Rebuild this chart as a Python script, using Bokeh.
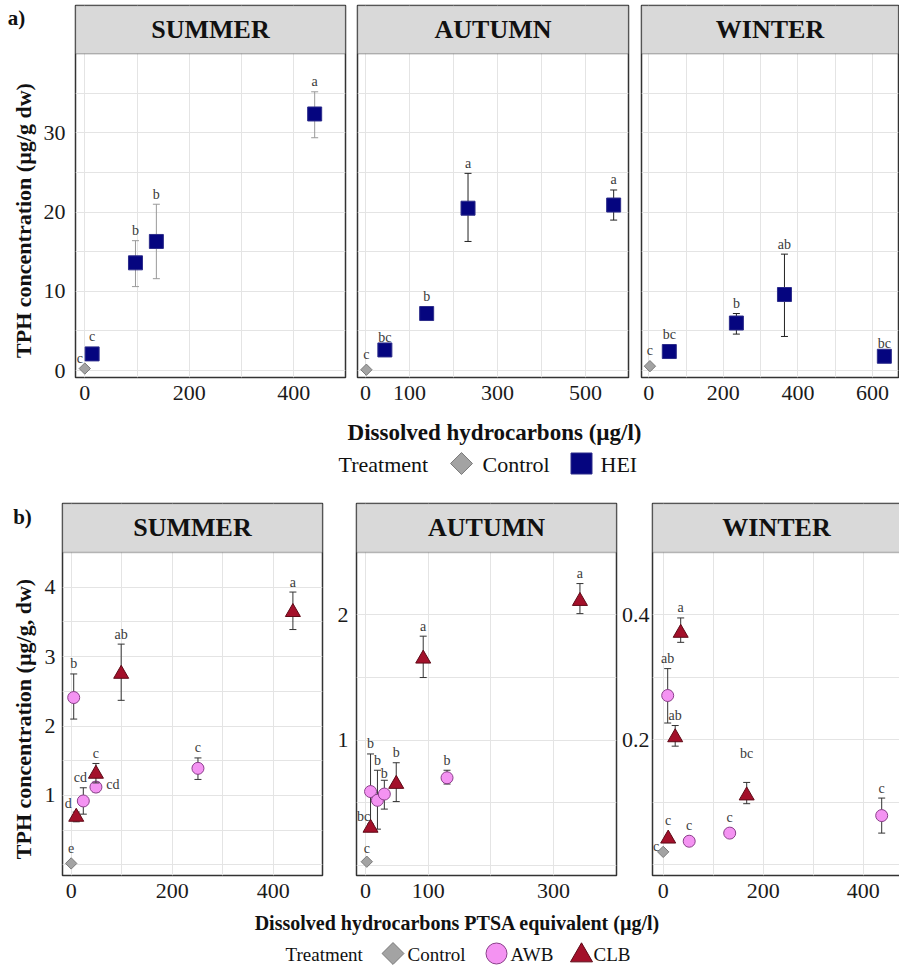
import math
from bokeh.plotting import figure
from bokeh.layouts import column, row
from bokeh.models import Range1d, FixedTicker, BoxAnnotation, Label, ColumnDataSource
from bokeh.core.properties import value
from bokeh.embed import file_html
from bokeh.resources import INLINE

# ------------------------------------------------------------------ DATA
seasons = ["SUMMER", "AUTUMN", "WINTER"]

# ---- panel a) : HEI vs Control, dissolved hydrocarbons (µg/l) / TPH (µg/g dw)
a_ctrl_x = [0, 2, 3]
a_ctrl_y = [0.25, 0.1, 0.55]
a_ctrl_lab = ["c", "c", "c"]

a_sum_hei_x = [14, 97, 137, 440]
a_sum_hei_y = [2.1, 13.6, 16.3, 32.4]
a_sum_hei_lo = [1.7, 10.6, 11.6, 29.4]
a_sum_hei_hi = [2.5, 16.4, 21.0, 35.2]
a_sum_hei_lab = ["c", "b", "b", "a"]

a_aut_hei_x = [44, 139, 233, 564]
a_aut_hei_y = [2.6, 7.2, 20.5, 20.9]
a_aut_hei_lo = [2.2, 6.5, 16.3, 19.0]
a_aut_hei_hi = [3.0, 7.5, 24.9, 22.8]
a_aut_hei_lab = ["bc", "b", "a", "a"]

a_win_hei_x = [55, 235, 364, 632]
a_win_hei_y = [2.4, 6.0, 9.6, 1.8]
a_win_hei_lo = [2.0, 4.6, 4.3, 1.5]
a_win_hei_hi = [2.8, 7.2, 14.7, 2.1]
a_win_hei_lab = ["bc", "b", "ab", "bc"]

# ---- panel b) : AWB / CLB vs Control, PTSA equivalent (µg/l) / TPH (µg/g, dw)
b_ctrl_x = [0, 2, 0]
b_ctrl_y = [0.02, 0.03, 0.021]
b_ctrl_lab = ["e", "c", "c"]

b_sum_awb_x = [5, 24, 49, 251]
b_sum_awb_y = [2.41, 0.92, 1.12, 1.39]
b_sum_awb_lo = [2.10, 0.73, 1.05, 1.23]
b_sum_awb_hi = [2.75, 1.11, 1.19, 1.54]
b_sum_awb_lab = ["b", "cd", "cd", "c"]

b_sum_clb_x = [10, 49, 99, 439]
b_sum_clb_y = [0.69, 1.31, 2.75, 3.64]
b_sum_clb_lo = [0.62, 1.18, 2.37, 3.39]
b_sum_clb_hi = [0.76, 1.46, 3.18, 3.93]
b_sum_clb_lab = ["d", "c", "ab", "a"]

b_aut_awb_x = [8, 19, 30, 130]
b_aut_awb_y = [0.59, 0.52, 0.57, 0.70]
b_aut_awb_lo = [0.29, 0.29, 0.45, 0.65]
b_aut_awb_hi = [0.89, 0.76, 0.68, 0.76]
b_aut_awb_lab = ["b", "b", "b", "b"]

b_aut_clb_x = [8, 49, 92, 342]
b_aut_clb_y = [0.30, 0.65, 1.65, 2.11]
b_aut_clb_lo = [0.27, 0.51, 1.50, 2.01]
b_aut_clb_hi = [0.33, 0.82, 1.83, 2.25]
b_aut_clb_lab = ["bc", "b", "a", "a"]

b_win_awb_x = [9, 52, 133, 437]
b_win_awb_y = [0.271, 0.038, 0.051, 0.079]
b_win_awb_lo = [0.227, 0.033, 0.046, 0.051]
b_win_awb_hi = [0.314, 0.043, 0.056, 0.107]
b_win_awb_lab = ["ab", "c", "c", "c"]

b_win_clb_x = [10, 24, 35, 167]
b_win_clb_y = [0.042, 0.204, 0.371, 0.111]
b_win_clb_lo = [0.038, 0.190, 0.356, 0.098]
b_win_clb_hi = [0.046, 0.223, 0.395, 0.132]
b_win_clb_lab = ["c", "ab", "a", "bc"]

# ---- tick values
a_y_ticks, a_y_minor = [0, 10, 20, 30], [5, 15, 25, 35]
a_sum_xticks, a_sum_xminor = [0, 200, 400], [100, 300]
a_aut_xticks, a_aut_xminor = [0, 100, 300, 500], [200, 400]
a_win_xticks, a_win_xminor = [0, 200, 400, 600], [100, 300, 500]
b_sum_xticks, b_sum_xminor = [0, 200, 400], [100, 300]
b_aut_xticks, b_aut_xminor = [0, 100, 300], [200]
b_win_xticks, b_win_xminor = [0, 200, 400], [100, 300]
b_sum_yticks, b_sum_yminor = [1, 2, 3, 4], [0, 0.5, 1.5, 2.5, 3.5]
b_aut_yticks, b_aut_yminor = [1, 2], [0, 0.5, 1.5]
b_win_yticks, b_win_yminor = [0.2, 0.4], [0, 0.1, 0.3]

# ------------------------------------------------------------------ STYLE
SERIF = "Liberation Serif"
GRID = "#e4e4e4"
FRAME = "#333333"
STRIP = "#d9d9d9"
LETTER = "#3a3a3a"
INK = "#111111"

STY = {
    "ctrl": dict(marker="square", angle=math.pi / 4, size=8, fill="#a3a3a3", line="#7a7a7a", half=5.7),
    "hei": dict(marker="square", angle=0.0, size=14, fill="#05057f", line="#2c2c8a", half=7),
    "awb": dict(marker="circle", angle=0.0, size=12, fill="#f493f2", line="#8a3f8a", half=6),
    "clb": dict(marker="triangle", angle=0.0, size=15, fill="#a3102a", line="#5e0a17", half=8.5),
}

# label nudges (dx, dy) in pixels for letters that sit off the default spot
NUDGE = {
    ("a_sum", "ctrl", 0): (-5, 6),
    ("a_aut", "hei", 0): (0, 5),
    ("a_win", "hei", 3): (0, 4),
    ("b_sum", "awb", 1): (-3, 0),
    ("b_sum", "awb", 2): (17, 13),
    ("b_sum", "clb", 0): (-8, 5),
    ("b_aut", "ctrl", 0): (0, 2),
    ("b_aut", "clb", 0): (-7, 7),
    ("b_aut", "awb", 2): (0, 3),
    ("b_win", "ctrl", 0): (-7, 10),
    ("b_win", "clb", 3): (0, -19),
}

FH = 372          # frame height (strip + data area)
BT, BB = 5, 32    # top / bottom borders of the panel rows
ROW_H = BT + FH + BB


def panel(season, fw, bl, br, xr, yr, strip_bottom, xt, xm, yt, ym, show_y, y_standoff):
    p = figure(frame_width=fw, frame_height=FH,
               min_border_left=bl, min_border_right=br, min_border_top=BT, min_border_bottom=BB,
               x_range=Range1d(*xr), y_range=Range1d(*yr),
               toolbar_location=None, output_backend="svg",
               background_fill_color="white", border_fill_color="white")
    p.outline_line_color = FRAME
    p.outline_line_width = 1.5
    xtk = FixedTicker(ticks=xt, minor_ticks=xm)
    ytk = FixedTicker(ticks=yt, minor_ticks=ym)
    p.xaxis.ticker = xtk
    p.xgrid.ticker = xtk
    p.yaxis.ticker = ytk
    p.ygrid.ticker = ytk
    for g in (p.xgrid, p.ygrid):
        g.grid_line_color = GRID
        g.minor_grid_line_color = GRID
        g.grid_line_width = 1
        g.minor_grid_line_width = 1
    for ax in (p.xaxis, p.yaxis):
        ax.axis_line_color = None
        ax.major_tick_line_color = None
        ax.minor_tick_line_color = None
        ax.major_tick_out = 0
        ax.major_tick_in = 0
        ax.minor_tick_out = 0
        ax.minor_tick_in = 0
        ax.major_label_text_font = SERIF
        ax.major_label_text_font_size = "22px"
        ax.major_label_text_color = "#1a1a1a"
    p.xaxis.major_label_standoff = 8
    p.yaxis.major_label_standoff = y_standoff
    if not show_y:
        p.yaxis.visible = False
    p.add_layout(BoxAnnotation(bottom=strip_bottom, fill_color=STRIP, fill_alpha=1.0,
                               line_color=FRAME, line_width=1.5))
    p.add_layout(Label(x=(xr[0] + xr[1]) / 2, y=(strip_bottom + yr[1]) / 2, text=season,
                       text_align="center", text_baseline="middle", text_font=SERIF,
                       text_font_style="bold", text_font_size="26px", text_color=INK))
    return p


def series(p, pid, kind, xs, ys, labs, lo=None, hi=None, err_color="#333333"):
    st = STY[kind]
    lo = lo if lo is not None else ys
    hi = hi if hi is not None else ys
    yr = p.y_range
    scale = p.frame_height / (yr.end - yr.start)
    dx, dy = [], []
    for i, (y, h) in enumerate(zip(ys, hi)):
        top = max((h - y) * scale, st["half"])
        ndx, ndy = NUDGE.get((pid, kind, i), (0, 0))
        dx.append(ndx)
        dy.append(-(top + 10) + ndy)
    src = ColumnDataSource(dict(x=xs, y=ys, lo=lo, hi=hi, lab=labs, dx=dx, dy=dy))
    if kind != "ctrl":
        p.segment(x0="x", y0="lo", x1="x", y1="hi", source=src, line_color=err_color, line_width=1)
        p.scatter(x="x", y="hi", source=src, marker="dash", size=7, line_color=err_color, line_width=1)
        p.scatter(x="x", y="lo", source=src, marker="dash", size=7, line_color=err_color, line_width=1)
    p.scatter(x="x", y="y", source=src, marker=st["marker"], angle=st["angle"], size=st["size"],
              fill_color=st["fill"], line_color=st["line"], line_width=1)
    p.text(x="x", y="y", text="lab", x_offset="dx", y_offset="dy", source=src,
           text_font=value(SERIF), text_font_size="14px", text_color=LETTER,
           text_align="center", text_baseline="middle")


def side_strip(width, tag, tag_xy, title, title_xy):
    """narrow figure left of a row holding the panel tag and the shared y-axis title"""
    s = figure(frame_width=width, frame_height=ROW_H, x_range=Range1d(0, width), y_range=Range1d(0, ROW_H),
               x_axis_type=None, y_axis_type=None, min_border=0, outline_line_color=None,
               toolbar_location=None, output_backend="svg")
    s.text(x=[tag_xy[0]], y=[ROW_H - tag_xy[1]], text=[tag], text_font=value(SERIF), text_font_style="bold",
           text_font_size="21px", text_align="center", text_baseline="middle", text_color=INK)
    s.text(x=[title_xy[0]], y=[ROW_H - title_xy[1]], text=[title], angle=math.pi / 2, text_font=value(SERIF),
           text_font_style="bold", text_font_size="22px", text_align="center", text_baseline="middle",
           text_color=INK)
    return s


# ------------------------------------------------------------------ PANEL a)
LW = 40
LA = side_strip(LW, "a)", (16, 12), "TPH concentration (µg/g dw)", (23, 215))
A1 = panel(seasons[0], 270, 75 - LW, 6, (-17.8, 499.0), (-0.88, 46.1), 40.0,
           a_sum_xticks, a_sum_xminor, a_y_ticks, a_y_minor, True, 10)
A2 = panel(seasons[1], 271, 6, 6, (-18.2, 597.7), (-0.88, 46.1), 40.0,
           a_aut_xticks, a_aut_xminor, a_y_ticks, a_y_minor, False, 10)
A3 = panel(seasons[2], 257, 7, 1, (-19.6, 670.0), (-0.88, 46.1), 40.0,
           a_win_xticks, a_win_xminor, a_y_ticks, a_y_minor, False, 10)

series(A1, "a_sum", "hei", a_sum_hei_x, a_sum_hei_y, a_sum_hei_lab, a_sum_hei_lo, a_sum_hei_hi, "#9a9a9a")
series(A1, "a_sum", "ctrl", a_ctrl_x[0:1], a_ctrl_y[0:1], a_ctrl_lab[0:1])
series(A2, "a_aut", "hei", a_aut_hei_x, a_aut_hei_y, a_aut_hei_lab, a_aut_hei_lo, a_aut_hei_hi, "#222222")
series(A2, "a_aut", "ctrl", a_ctrl_x[1:2], a_ctrl_y[1:2], a_ctrl_lab[1:2])
series(A3, "a_win", "hei", a_win_hei_x, a_win_hei_y, a_win_hei_lab, a_win_hei_lo, a_win_hei_hi, "#222222")
series(A3, "a_win", "ctrl", a_ctrl_x[2:3], a_ctrl_y[2:3], a_ctrl_lab[2:3])

# footer a)
FA_H = 89
FA = figure(frame_width=899, frame_height=FA_H, x_range=Range1d(0, 899), y_range=Range1d(FA_H, 0),
            x_axis_type=None, y_axis_type=None, min_border=0, outline_line_color=None,
            toolbar_location=None, output_backend="svg")
FA.text(x=[494], y=[23], text=["Dissolved hydrocarbons (µg/l)"], text_font=value(SERIF),
        text_font_style="bold", text_font_size="23px", text_align="center", text_baseline="middle",
        text_color=INK)
FA.text(x=[338, 482, 600], y=[55, 55, 55], text=["Treatment", "Control", "HEI"], text_font=value(SERIF),
        text_font_size="22px", text_align="left", text_baseline="middle", text_color=INK)
FA.scatter(x=[461], y=[54], marker="square", angle=math.pi / 4, size=15.5,
           fill_color=STY["ctrl"]["fill"], line_color=STY["ctrl"]["line"])
FA.scatter(x=[581], y=[54], marker="square", size=21,
           fill_color=STY["hei"]["fill"], line_color=STY["hei"]["line"])

# ------------------------------------------------------------------ PANEL b)
LB = side_strip(LW, "b)", (22, 13), "TPH concentration (µg/g, dw)", (23, 215.5))
B1 = panel(seasons[0], 260, 62 - LW, 4, (-17.2, 497.6), (-0.154, 5.206), 4.50,
           b_sum_xticks, b_sum_xminor, b_sum_yticks, b_sum_yminor, True, 7)
B2 = panel(seasons[1], 260, 30, 2, (-14.4, 400.3), (-0.08, 2.889), 2.498,
           b_aut_xticks, b_aut_xminor, b_aut_yticks, b_aut_yminor, True, 8)
B3 = panel(seasons[2], 248, 32, 1, (-21.4, 474.6), (-0.0168, 0.578), 0.4997,
           b_win_xticks, b_win_xminor, b_win_yticks, b_win_yminor, True, 3)

series(B1, "b_sum", "awb", b_sum_awb_x, b_sum_awb_y, b_sum_awb_lab, b_sum_awb_lo, b_sum_awb_hi)
series(B1, "b_sum", "clb", b_sum_clb_x, b_sum_clb_y, b_sum_clb_lab, b_sum_clb_lo, b_sum_clb_hi)
series(B1, "b_sum", "ctrl", b_ctrl_x[0:1], b_ctrl_y[0:1], b_ctrl_lab[0:1])
series(B2, "b_aut", "awb", b_aut_awb_x, b_aut_awb_y, b_aut_awb_lab, b_aut_awb_lo, b_aut_awb_hi)
series(B2, "b_aut", "clb", b_aut_clb_x, b_aut_clb_y, b_aut_clb_lab, b_aut_clb_lo, b_aut_clb_hi)
series(B2, "b_aut", "ctrl", b_ctrl_x[1:2], b_ctrl_y[1:2], b_ctrl_lab[1:2])
series(B3, "b_win", "awb", b_win_awb_x, b_win_awb_y, b_win_awb_lab, b_win_awb_lo, b_win_awb_hi)
series(B3, "b_win", "clb", b_win_clb_x, b_win_clb_y, b_win_clb_lab, b_win_clb_lo, b_win_clb_hi)
series(B3, "b_win", "ctrl", b_ctrl_x[2:3], b_ctrl_y[2:3], b_ctrl_lab[2:3])

# footer b)
FB_H = 66
FB = figure(frame_width=899, frame_height=FB_H, x_range=Range1d(0, 899), y_range=Range1d(FB_H, 0),
            x_axis_type=None, y_axis_type=None, min_border=0, outline_line_color=None,
            toolbar_location=None, output_backend="svg")
FB.text(x=[457], y=[15], text=["Dissolved hydrocarbons PTSA equivalent (µg/l)"], text_font=value(SERIF),
        text_font_style="bold", text_font_size="20px", text_align="center", text_baseline="middle",
        text_color=INK)
FB.text(x=[285, 407, 510, 593], y=[47, 47, 47, 47], text=["Treatment", "Control", "AWB", "CLB"],
        text_font=value(SERIF), text_font_size="19px", text_align="left", text_baseline="middle",
        text_color=INK)
FB.scatter(x=[392.5], y=[46], marker="square", angle=math.pi / 4, size=15.5,
           fill_color=STY["ctrl"]["fill"], line_color=STY["ctrl"]["line"])
FB.scatter(x=[496], y=[46], marker="circle", size=21,
           fill_color=STY["awb"]["fill"], line_color=STY["awb"]["line"])
FB.scatter(x=[581], y=[48], marker="triangle", size=22,
           fill_color=STY["clb"]["fill"], line_color=STY["clb"]["line"])

layout = column(row(LA, A1, A2, A3), FA, row(LB, B1, B2, B3), FB)

open("out.html", "w").write(file_html(layout, INLINE))
